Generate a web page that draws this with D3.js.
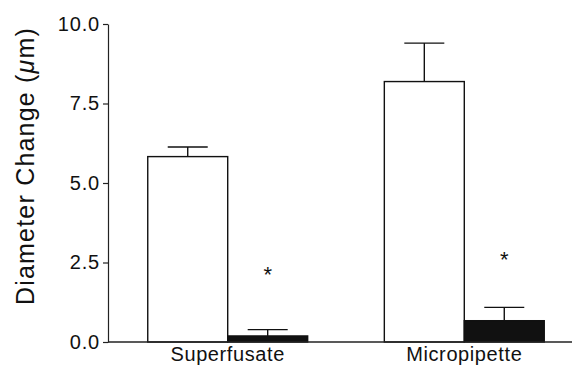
<!DOCTYPE html>
<html>
<head>
<meta charset="utf-8">
<script src="https://cdn.jsdelivr.net/npm/d3@7"></script>
<style>
  body { margin: 0; background: #fff; }
  text { font-family: "Liberation Sans", Arial, sans-serif; fill: #111; }
</style>
</head>
<body>
<svg id="chart" width="575" height="366"></svg>
<script>
// values
const categories = ["Superfusate", "Micropipette"];
const groups = ["control", "treated"];
const means = [[5.83, 0.19], [8.19, 0.67]];
const errors = [[0.30, 0.20], [1.21, 0.42]];
const significant = [[false, true], [false, true]];
const yTicks = [0, 2.5, 5, 7.5, 10];

const svg = d3.select("#chart");
const margin = { left: 108, top: 24, bottom: 342 };

const y = d3.scaleLinear().domain([0, 10]).range([margin.bottom, margin.top]);
const x0 = d3.scaleBand().domain(categories).range([108, 584])
        .paddingInner(0.324).paddingOuter(0.168);
const x1 = d3.scaleBand().domain(groups).range([0, x0.bandwidth()]);

const rows = [];
categories.forEach((c, i) => groups.forEach((g, j) => {
        rows.push({ cat: c, group: g, mean: means[i][j], err: errors[i][j], sig: significant[i][j] });
}));

let yAxis = svg.append("g")
        .attr("transform", `translate(${margin.left},0)`)
        .call(d3.axisLeft(y).tickValues(yTicks).tickFormat(d3.format(".1f")).tickSize(5).tickSizeOuter(0));
yAxis.select(".domain").attr("stroke", "#222").attr("stroke-width", 1.2);
yAxis.selectAll(".tick line").attr("stroke", "#222").attr("stroke-width", 1.2);
yAxis.selectAll(".tick text")
        .attr("x", -8)
        .attr("font-size", 20)
        .attr("letter-spacing", 0.8)
        .style("font-family", "Liberation Sans, Arial, sans-serif")
        .attr("fill", "#111");

let bars = svg.append("g").selectAll("g.bar")
        .data(rows)
        .enter().append("g")
                .attr("class", "bar")
                .attr("transform", d => `translate(${x0(d.cat) + x1(d.group)},0)`);

// error bars behind the bars
bars.append("line")
        .attr("x1", x1.bandwidth() / 2).attr("x2", x1.bandwidth() / 2)
        .attr("y1", d => y(d.mean)).attr("y2", d => y(d.mean + d.err))
        .attr("stroke", "#111").attr("stroke-width", 1.4);
bars.append("line")
        .attr("x1", x1.bandwidth() / 2 - 20).attr("x2", x1.bandwidth() / 2 + 20)
        .attr("y1", d => y(d.mean + d.err)).attr("y2", d => y(d.mean + d.err))
        .attr("stroke", "#111").attr("stroke-width", 1.4);

bars.append("rect")
        .attr("x", 0)
        .attr("width", x1.bandwidth())
        .attr("y", d => y(d.mean))
        .attr("height", d => y(0) - y(d.mean))
        .attr("fill", d => d.group === "control" ? "#fff" : "#111")
        .attr("stroke", "#111")
        .attr("stroke-width", 1.4);

// asterisk sits two units above the bar
bars.filter(d => d.sig).append("text")
        .attr("x", x1.bandwidth() / 2)
        .attr("y", d => y(d.mean + 2) + 10)
        .attr("text-anchor", "middle")
        .attr("font-size", 22)
        .text("*");

// baseline
svg.append("line")
        .attr("x1", margin.left).attr("x2", 572)
        .attr("y1", y(0)).attr("y2", y(0))
        .attr("stroke", "#222").attr("stroke-width", 1.4);

svg.append("g").selectAll("text.cat")
        .data(categories)
        .enter().append("text")
                .attr("class", "cat")
                .attr("x", d => x0(d) + x0.bandwidth() / 2)
                .attr("y", 361)
                .attr("text-anchor", "middle")
                .attr("font-size", 20)
                .attr("letter-spacing", 0.6)
                .text(d => d);

let yLabel = svg.append("text")
        .attr("transform", "translate(34,166) rotate(-90)")
        .attr("text-anchor", "middle")
        .attr("font-size", 25)
        .attr("letter-spacing", 1.2);
yLabel.append("tspan").text("Diameter Change (");
yLabel.append("tspan").attr("font-style", "italic").text("μ");
yLabel.append("tspan").text("m)");
</script>
</body>
</html>
